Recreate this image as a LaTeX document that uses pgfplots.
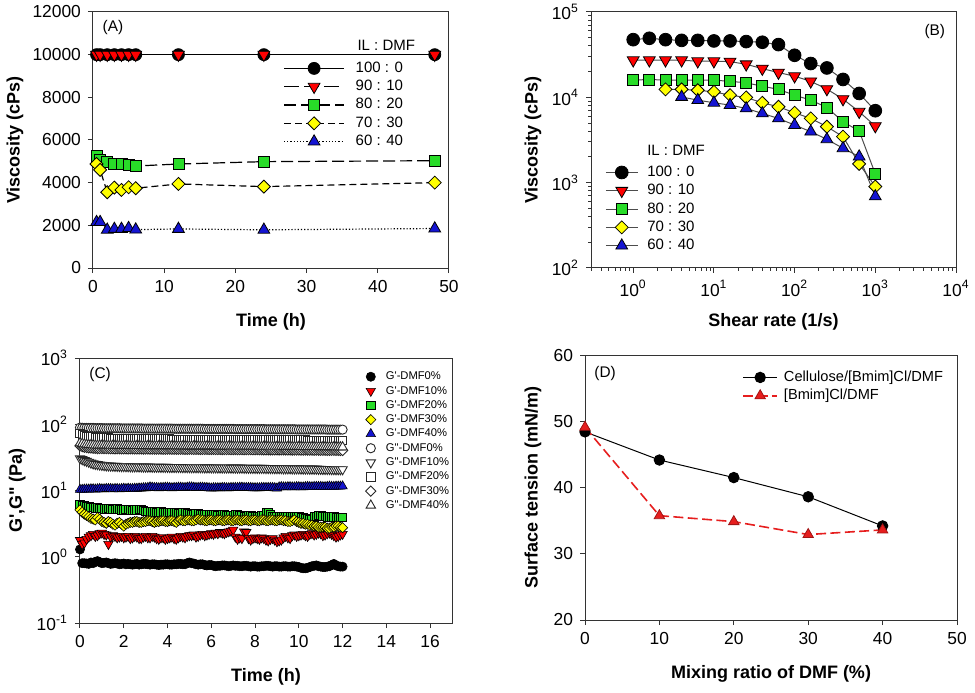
\documentclass[border=0pt]{standalone}
\usepackage{fontspec}
\setmainfont{Liberation Sans}
\usepackage{pgfplots}
\pgfplotsset{compat=1.18}
\usepackage{pgfplotstable}

\definecolor{mred}{RGB}{255,0,0}
\definecolor{mgreen}{RGB}{40,220,40}
\definecolor{myellow}{RGB}{255,255,0}
\definecolor{mblue}{RGB}{20,20,210}
\definecolor{dred}{RGB}{230,30,30}

\pgfplotstableread{
t a0 a10 a20 a30 a40 b0 b10 b20 b30 b40
0.0 1.29 1.78 6.2 5.1 10.3 89 30.5 72 47 52
0.1 0.80 1.55 6.0 4.7 10.3 88.5 29.5 69 46 51
0.2 0.80 1.62 5.9 4.4 10.4 88 28.5 67 45 50
0.3 0.79 1.85 5.8 4.2 10.4 88 27.8 66 44.5 49.5
0.4 0.78 2.00 5.7 4.0 10.4 88 27.0 65 44 49
0.5 0.82 2.10 5.6 3.8 10.5 88 26.2 64.5 43.8 48.8
0.6 0.80 2.20 5.6 3.7 10.5 88 25.5 64 43.5 48.5
0.7 0.84 2.05 5.5 3.6 10.4 87.5 25.1 63.5 43.2 48.2
0.8 0.86 2.10 5.5 3.9 10.5 87.5 24.8 63 43 48
0.9 0.83 2.25 5.4 3.7 10.6 87.5 24.5 62.8 43 48
1.0 0.80 2.30 5.4 3.4 10.5 87.5 24.2 62.5 43 48
1.1 0.81 2.20 5.3 3.3 10.5 87 24.0 62.2 42.9 47.9
1.2 0.82 2.15 5.3 3.2 10.6 87 23.8 62 42.8 47.8
1.3 0.80 1.55 5.4 3.4 10.6 87 23.7 61.8 42.8 47.8
1.4 0.78 2.00 5.3 3.3 10.6 87 23.6 61.5 42.7 47.7
1.5 0.79 2.10 5.2 3.1 10.5 87 23.5 61.5 42.7 47.7
1.6 0.80 2.05 5.2 3.0 10.6 87 23.4 61.5 42.6 47.6
1.7 0.79 1.95 5.3 3.2 10.6 87 23.4 61.2 42.6 47.6
1.8 0.77 2.00 5.2 3.3 10.5 87 23.3 61 42.5 47.5
1.9 0.78 2.05 5.1 3.1 10.6 86.5 23.2 61 42.5 47.5
2.0 0.79 1.95 5.1 2.9 10.7 86.5 23.2 61 42.5 47.5
2.1 0.77 2.00 5.2 3.1 10.6 86.5 23.1 61 42.4 47.4
2.2 0.78 2.05 5.2 3.2 10.7 86.5 23.1 61 42.4 47.4
2.3 0.77 1.90 5.1 3.3 10.6 86.5 23.0 60.8 42.4 47.4
2.4 0.76 1.95 5.0 3.3 10.6 86.5 23.0 60.5 42.4 47.4
2.5 0.77 2.05 5.1 3.4 10.7 86.5 23.0 60.5 42.3 47.3
2.6 0.78 2.00 5.1 3.4 10.7 86.5 23.0 60.5 42.3 47.3
2.7 0.76 1.90 5.2 3.3 10.8 86.5 22.9 60.5 42.3 47.3
2.8 0.77 1.90 5.2 3.3 10.8 86.5 22.9 60.5 42.3 47.3
2.9 0.78 2.00 5.0 3.4 10.9 86 22.8 60.5 42.2 47.2
3.0 0.78 2.05 4.9 3.4 10.9 86 22.8 60.5 42.2 47.2
3.1 0.77 1.95 4.9 3.5 11.0 86 22.8 60.2 42.2 47.2
3.2 0.76 1.95 4.8 3.5 11.2 86 22.8 60 42.2 47.2
3.3 0.77 2.05 4.8 3.4 11.1 86 22.7 60 42.1 47.1
3.4 0.77 2.00 4.8 3.3 11.0 86 22.7 60 42.1 47.1
3.5 0.76 1.90 4.7 3.4 11.0 86 22.7 60 42.1 47.1
3.6 0.75 1.85 4.7 3.4 10.9 86 22.7 60 42.1 47.1
3.7 0.76 1.95 4.8 3.5 11.0 86 22.6 60 42.0 47.0
3.8 0.76 1.95 4.7 3.5 11.0 86 22.6 60 42.0 47.0
3.9 0.77 1.85 4.6 3.4 11.1 86 22.6 60 42.0 47.0
4.0 0.77 1.90 4.6 3.4 11.1 86 22.6 60 42.0 47.0
4.1 0.76 1.95 4.7 3.5 11.0 86 22.5 59.8 42.0 47.0
4.2 0.76 2.00 4.7 3.5 10.9 86 22.5 59.5 42.0 47.0
4.3 0.77 1.90 4.6 3.4 11.0 85.5 22.5 59.5 41.9 46.9
4.4 0.77 1.85 4.6 3.3 11.0 85.5 22.5 59.5 41.9 46.9
4.5 0.78 1.95 4.5 3.5 11.1 85.5 22.5 59.5 41.9 46.9
4.6 0.78 2.05 4.5 3.6 11.1 85.5 22.5 59.5 41.9 46.9
4.7 0.77 2.00 4.6 3.5 11.0 85.5 22.4 59.5 41.8 46.8
4.8 0.77 1.95 4.6 3.5 11.0 85.5 22.4 59.5 41.8 46.8
4.9 0.80 2.05 4.5 3.6 11.1 85.5 22.4 59.5 41.8 46.8
5.0 0.82 2.10 4.5 3.6 11.2 85.5 22.4 59.5 41.8 46.8
5.1 0.80 2.10 4.4 3.5 11.2 85.5 22.3 59.5 41.8 46.8
5.2 0.79 2.15 4.4 3.5 11.1 85.5 22.3 59.5 41.8 46.8
5.3 0.77 2.00 4.5 3.6 11.0 85.5 22.3 59.5 41.7 46.7
5.4 0.76 2.05 4.5 3.7 11.0 85.5 22.3 59.5 41.7 46.7
5.5 0.77 2.15 4.4 3.6 11.1 85.5 22.3 59.2 41.7 46.7
5.6 0.77 2.20 4.4 3.6 11.1 85.5 22.3 59 41.7 46.7
5.7 0.75 2.10 4.3 3.5 11.0 85 22.2 59 41.7 46.7
5.8 0.74 2.15 4.3 3.5 11.0 85 22.2 59 41.7 46.7
5.9 0.75 2.20 4.3 3.6 10.9 85 22.2 59 41.6 46.6
6.0 0.75 2.25 4.3 3.6 10.8 85 22.2 59 41.6 46.6
6.1 0.73 2.20 4.3 3.5 10.9 85 22.2 59 41.6 46.6
6.2 0.72 2.30 4.3 3.5 10.9 85 22.2 59 41.6 46.6
6.3 0.73 2.25 4.2 3.6 10.9 85 22.1 59 41.5 46.5
6.4 0.73 2.35 4.2 3.6 10.9 85 22.1 59 41.5 46.5
6.5 0.74 2.30 4.3 3.5 11.0 85 22.1 59 41.5 46.5
6.6 0.74 2.25 4.3 3.5 11.0 85 22.1 59 41.5 46.5
6.7 0.73 2.35 4.2 3.6 10.9 85 22.1 58.8 41.5 46.5
6.8 0.72 2.40 4.2 3.6 10.9 85 22.1 58.5 41.5 46.5
6.9 0.73 2.45 4.2 3.5 11.0 85 22.0 58.5 41.4 46.4
7.0 0.74 2.55 4.2 3.5 11.0 85 22.0 58.5 41.4 46.4
7.1 0.73 2.00 4.3 3.6 11.0 84.5 22.0 58.5 41.4 46.4
7.2 0.73 1.85 4.3 3.6 11.0 84.5 22.0 58.5 41.4 46.4
7.3 0.72 1.95 4.2 3.5 11.1 84.5 22.0 58.5 41.3 46.3
7.4 0.72 1.90 4.2 3.5 11.1 84.5 22.0 58.5 41.3 46.3
7.5 0.73 2.40 4.1 3.6 11.0 84.5 21.9 58.5 41.3 46.3
7.6 0.73 2.35 4.1 3.6 11.0 84.5 21.9 58.5 41.3 46.3
7.7 0.72 1.90 4.2 3.5 11.0 84.5 21.9 58.5 41.3 46.3
7.8 0.71 1.80 4.2 3.5 11.0 84.5 21.9 58.5 41.3 46.3
7.9 0.72 1.90 4.1 3.6 10.9 84.5 21.8 58.5 41.2 46.2
8.0 0.72 1.95 4.1 3.6 10.9 84.5 21.8 58.5 41.2 46.2
8.1 0.71 1.90 4.1 3.5 10.9 84.5 21.8 58.5 41.2 46.2
8.2 0.71 1.85 4.1 3.5 10.9 84.5 21.8 58.5 41.2 46.2
8.3 0.72 1.95 4.2 3.6 11.0 84.5 21.8 58.2 41.1 46.1
8.4 0.72 1.90 4.2 3.6 11.0 84.5 21.8 58 41.1 46.1
8.5 0.73 1.80 4.6 3.5 11.0 84 21.7 58 41.1 46.1
8.6 0.73 1.75 4.7 3.5 11.0 84 21.7 58 41.1 46.1
8.7 0.72 1.85 4.3 3.6 11.0 84 21.7 58 41.0 46.0
8.8 0.71 1.90 4.1 3.6 11.0 84 21.7 58 41.0 46.0
8.9 0.72 1.80 4.0 3.5 10.9 84 21.6 58 41.0 46.0
9.0 0.72 1.70 4.0 3.5 10.8 84 21.6 58 41.0 46.0
9.1 0.71 1.75 4.1 3.6 11.2 84 21.6 58 41.0 46.0
9.2 0.71 1.80 4.1 3.6 11.3 84 21.6 58 41.0 46.0
9.3 0.72 1.95 4.0 3.5 11.2 84 21.5 58 40.9 45.9
9.4 0.72 2.05 4.0 3.5 11.2 84 21.5 58 40.9 45.9
9.5 0.71 1.95 4.0 3.4 11.3 84 21.5 58 40.9 45.9
9.6 0.71 1.90 4.0 3.4 11.3 84 21.5 58 40.9 45.9
9.7 0.72 2.10 4.0 3.5 11.2 84 21.4 58 40.8 45.8
9.8 0.72 2.15 4.0 3.6 11.2 84 21.4 58 40.8 45.8
9.9 0.71 2.05 4.0 3.4 11.3 83.5 21.4 58 40.8 45.8
10.0 0.70 2.10 4.0 3.3 11.3 83.5 21.4 58 40.8 45.8
10.1 0.68 2.15 3.9 3.2 11.2 83.5 21.3 58 40.7 45.7
10.2 0.67 2.20 3.9 3.2 11.2 83.5 21.3 58 40.7 45.7
10.3 0.67 2.10 3.8 3.1 11.3 83.5 21.3 57.8 40.7 45.7
10.4 0.68 2.05 3.8 3.1 11.4 83.5 21.3 57.5 40.7 45.7
10.5 0.70 2.20 3.7 3.0 11.3 83.5 21.2 57.5 40.6 45.6
10.6 0.72 2.25 3.7 3.0 11.3 83.5 21.2 57.5 40.6 45.6
10.7 0.73 2.15 4.0 2.9 11.4 83.5 21.2 57.5 40.6 45.6
10.8 0.74 2.20 4.1 2.9 11.4 83.5 21.2 57.5 40.6 45.6
10.9 0.72 2.30 4.2 2.8 11.4 83.5 21.1 57.5 40.5 45.5
11.0 0.71 2.25 4.2 2.8 11.4 83.5 21.1 57.5 40.5 45.5
11.1 0.70 2.10 4.1 2.8 11.3 83.5 21.0 57.5 40.5 45.5
11.2 0.70 2.15 4.1 2.8 11.3 83.5 21.0 57.5 40.5 45.5
11.3 0.71 2.25 4.0 2.7 11.4 83 21.0 57.5 40.4 45.4
11.4 0.72 2.30 4.0 2.7 11.5 83 21.0 57.5 40.4 45.4
11.5 0.75 2.20 4.0 2.8 11.4 83 20.9 57.5 40.4 45.4
11.6 0.78 2.10 4.0 2.8 11.4 83 20.9 57.5 40.4 45.4
11.7 0.74 2.00 3.9 2.9 11.5 83 20.8 57.5 40.3 45.3
11.8 0.72 2.05 3.9 2.9 11.5 83 20.8 57.5 40.3 45.3
11.9 0.71 2.15 3.9 2.8 11.5 83 20.8 57.5 40.2 45.2
12.0 0.71 2.20 3.9 2.75 11.6 83 20.8 57.5 40.2 45.2
}\dataC

\pgfplotsset{
 panel/.style={
  scale only axis,
  axis line style={black!80, line width=0.5pt},
  tick align=outside,
  tick pos=left,
  major tick length=2.5pt,
  minor tick length=1.5pt,
  every tick/.style={black!80, line width=0.5pt},
  ticklabel style={font=\fontsize{8.7}{10}\selectfont},
  /pgf/number format/assume math mode=true,
  /pgf/number format/1000 sep={},
  label style={font=\fontsize{9}{10}\selectfont\bfseries},
  legend cell align=left,
  legend style={draw=none, fill=none, inner sep=0pt, font=\fontsize{7.5}{9}\selectfont,
    nodes={inner sep=0.5pt, text height=5.5pt, text depth=1.5pt}, row sep=1.15pt},
  clip=false,
 },
 lineleg/.style={legend image code/.code={\draw[mark repeat=2,mark phase=2,##1] plot coordinates {(0pt,0pt) (#1,0pt) (2*#1,0pt)};}},
}

\begin{document}
\begin{tikzpicture}
\path[use as bounding box] (0,0) rectangle (487.5pt,346pt);

% ---------------- (A)
\begin{axis}[panel, at={(46.5pt,212pt)}, anchor=south west, width=178pt, height=128pt,
  xmin=0, xmax=50, ymin=0, ymax=12000, xtick={0,10,...,50}, ytick={0,2000,...,12000},
  scaled y ticks=false,
  xlabel={Time (h)}, ylabel={Viscosity (cPs)},
  xlabel style={at={(axis description cs:0.5,-0.211)}, anchor=center},
  ylabel style={at={(axis description cs:-0.219,0.5)}, anchor=center},
  lineleg=15pt,
  legend style={at={(0.534,0.8125)}, anchor=north west,
    /tikz/every odd column/.append style={column sep=5pt}}]
\addplot[black, line width=0.6pt, mark=*, mark size=3pt, mark options={solid, fill=black, draw=black, line width=0.4pt}]
 coordinates {(0.5,10000) (1,10000) (2,10000) (3,10000) (4,10000) (5,10000) (6,10000) (12,10000) (24,10000) (48,10000)};
\addlegendentry{100 : 0}
\addplot[black, line width=0.6pt, dash pattern=on 7.5pt off 2.5pt, mark=triangle*, mark size=3.4pt, mark options={solid, fill=mred, draw=black, line width=0.4pt, rotate=180}]
 coordinates {(0.5,10000) (1,10000) (2,10000) (3,10000) (4,10000) (5,10000) (6,10000) (12,10000) (24,10000) (48,10000)};
\addlegendentry{90 : 10}
\addplot[black, line width=0.6pt, dash pattern=on 6pt off 2.5pt, mark=square*, mark size=2.75pt, mark options={solid, fill=mgreen, draw=black, line width=0.4pt}]
 coordinates {(0.5,5250) (1,5090) (2,4950) (3,4875) (4,4875) (5,4830) (6,4780) (12,4875) (24,4985) (48,5030)};
\addlegendentry{80 : 20}
\addplot[black, line width=0.6pt, dash pattern=on 3.5pt off 2pt, mark=square*, mark size=2.3pt, mark options={solid, fill=myellow, draw=black, line width=0.4pt, rotate=45}]
 coordinates {(0.5,4875) (1,4600) (2,3550) (3,3770) (4,3660) (5,3785) (6,3740) (12,3940) (24,3815) (48,4000)};
\addlegendentry{70 : 30}
\addplot[black, line width=0.6pt, dash pattern=on 0.6pt off 1pt, mark=triangle*, mark size=3.4pt, mark options={solid, fill=mblue, draw=black, line width=0.4pt}]
 coordinates {(0.5,2150) (1,2150) (2,1790) (3,1830) (4,1830) (5,1870) (6,1800) (12,1830) (24,1790) (48,1850)};
\addlegendentry{60 : 40}
\node[font=\fontsize{7.7}{9}\selectfont] at (rel axis cs:0.056,0.941) {(A)};
\node[font=\fontsize{7.5}{9}\selectfont, anchor=west, inner sep=0pt] at (rel axis cs:0.742,0.871) {IL : DMF};
\end{axis}

% ---------------- (B)
\begin{axis}[panel, at={(295.5pt,212pt)}, anchor=south west, width=182.5pt, height=128pt,
  xmode=log, ymode=log, xmin=0.3, xmax=10000, ymin=100, ymax=100000,
  xtick={1,10,100,1000,10000},
  xticklabels={10\textsuperscript{0},10\textsuperscript{1},10\textsuperscript{2},10\textsuperscript{3},10\textsuperscript{4}},
  ytick={100,1000,10000,100000},
  yticklabels={10\textsuperscript{2},10\textsuperscript{3},10\textsuperscript{4},10\textsuperscript{5}},
  minor xtick={0.3,0.4,0.5,0.6,0.7,0.8,0.9,2,3,4,5,6,7,8,9,20,30,40,50,60,70,80,90,200,300,400,500,600,700,800,900,2000,3000,4000,5000,6000,7000,8000,9000},
  minor ytick={200,300,400,500,600,700,800,900,2000,3000,4000,5000,6000,7000,8000,9000,20000,30000,40000,50000,60000,70000,80000,90000},
  xlabel={Shear rate (1/s)}, ylabel={Viscosity (cPs)},
  xlabel style={at={(axis description cs:0.5,-0.211)}, anchor=center},
  ylabel style={at={(axis description cs:-0.159,0.5)}, anchor=center},
  lineleg=8pt,
  legend style={at={(0.038,0.406)}, anchor=north west,
    /tikz/every odd column/.append style={column sep=4pt}}]
\addplot[black!70, line width=0.5pt, mark=*, mark size=3.2pt, mark options={fill=black, draw=black, line width=0.4pt}]
 coordinates {(1,47400) (1.585,49200) (2.512,47400) (3.981,46500) (6.31,46500) (10,45800) (15.85,45800) (25.12,45000) (39.81,44200) (63.1,41500) (100,31100) (158.5,24900) (251.2,22100) (398.1,16200) (631,11100) (1000,6970)};
\addlegendentry{100 : 0}
\addplot[black!70, line width=0.5pt, mark=triangle*, mark size=3.4pt, mark options={fill=mred, draw=black, line width=0.4pt, rotate=180}]
 coordinates {(1,27200) (1.585,27200) (2.512,27200) (3.981,27200) (6.31,26500) (10,26500) (15.85,26200) (25.12,24400) (39.81,21700) (63.1,19500) (100,17700) (158.5,15400) (251.2,12500) (398.1,9530) (631,6780) (1000,4600)};
\addlegendentry{90 : 10}
\addplot[black!70, line width=0.5pt, mark=square*, mark size=2.75pt, mark options={fill=mgreen, draw=black, line width=0.4pt}]
 coordinates {(1,15900) (1.585,16200) (2.512,15900) (3.981,15900) (6.31,15900) (10,15900) (15.85,15400) (25.12,14800) (39.81,13500) (63.1,12400) (100,10600) (158.5,9280) (251.2,7610) (398.1,5180) (631,4030) (1000,1265)};
\addlegendentry{80 : 20}
\addplot[black!70, line width=0.5pt, mark=square*, mark size=2.3pt, mark options={fill=myellow, draw=black, line width=0.4pt, rotate=45}]
 coordinates {(2.512,12400) (3.981,12400) (6.31,12100) (10,11600) (15.85,10600) (25.12,9960) (39.81,8630) (63.1,7750) (100,6590) (158.5,5660) (251.2,4530) (398.1,3460) (631,1660) (1000,900)};
\addlegendentry{70 : 30}
\addplot[black!70, line width=0.5pt, mark=triangle*, mark size=3.4pt, mark options={fill=mblue, draw=black, line width=0.4pt}]
 coordinates {(3.981,10100) (6.31,9270) (10,8630) (15.85,8110) (25.12,7410) (39.81,6480) (63.1,5660) (100,4730) (158.5,3960) (251.2,3220) (398.1,2530) (631,2020) (1000,690)};
\addlegendentry{60 : 40}
\node[font=\fontsize{7.7}{9}\selectfont] at (rel axis cs:0.942,0.922) {(B)};
\node[font=\fontsize{7.5}{9}\selectfont, anchor=west, inner sep=0pt] at (rel axis cs:0.153,0.461) {IL : DMF};
\end{axis}

% ---------------- (C)
\begin{axis}[panel, at={(40pt,34.5pt)}, anchor=south west, width=186pt, height=132.5pt,
  ymode=log, xmin=0, xmax=17, ymin=0.1, ymax=1000,
  xtick={0,2,...,16},
  ytick={0.1,1,10,100,1000},
  yticklabels={10\textsuperscript{-1},10\textsuperscript{0},10\textsuperscript{1},10\textsuperscript{2},10\textsuperscript{3}},
  minor tick length=0pt,
  xlabel={Time (h)}, ylabel={G\textquotesingle,G\textquotedbl{} (Pa)},
  xlabel style={at={(axis description cs:0.5,-0.204)}, anchor=center},
  ylabel style={at={(axis description cs:-0.169,0.5)}, anchor=center},
  legend style={at={(0.767,0.955)}, anchor=north west, font=\fontsize{5.6}{7}\selectfont,
    nodes={inner sep=0.5pt, text height=4.2pt, text depth=1.2pt}, row sep=0.75pt,
    /tikz/every odd column/.append style={column sep=4.5pt}},
  legend image code/.code={\draw[#1] plot coordinates {(0pt,0pt)};},
  every axis plot/.append style={only marks}]
\addplot[mark=*, mark size=2.3pt, mark options={fill=black, draw=black, line width=0.3pt}] table[x=t, y=a0] {\dataC};
\addlegendentry{G\textquotesingle-DMF0\%}
\addplot[mark=triangle*, mark size=2.7pt, mark options={fill=mred, draw=black, line width=0.3pt, rotate=180}] table[x=t, y=a10] {\dataC};
\addlegendentry{G\textquotesingle-DMF10\%}
\addplot[mark=square*, mark size=2.1pt, mark options={fill=mgreen, draw=black, line width=0.3pt}] table[x=t, y=a20] {\dataC};
\addlegendentry{G\textquotesingle-DMF20\%}
\addplot[mark=square*, mark size=1.8pt, mark options={fill=myellow, draw=black, line width=0.3pt, rotate=45}] table[x=t, y=a30] {\dataC};
\addlegendentry{G\textquotesingle-DMF30\%}
\addplot[mark=triangle*, mark size=2.7pt, mark options={fill=mblue, draw=black, line width=0.3pt}] table[x=t, y=a40] {\dataC};
\addlegendentry{G\textquotesingle-DMF40\%}
\addplot[mark=*, mark size=2.3pt, mark options={fill=white, draw=black!85, line width=0.45pt}] table[x=t, y=b0] {\dataC};
\addlegendentry{G\textquotedbl-DMF0\%}
\addplot[mark=triangle*, mark size=2.7pt, mark options={fill=white, draw=black!85, line width=0.45pt, rotate=180}] table[x=t, y=b10] {\dataC};
\addlegendentry{G\textquotedbl-DMF10\%}
\addplot[mark=square*, mark size=2.1pt, mark options={fill=white, draw=black!85, line width=0.45pt}] table[x=t, y=b20] {\dataC};
\addlegendentry{G\textquotedbl-DMF20\%}
\addplot[mark=square*, mark size=1.8pt, mark options={fill=white, draw=black!85, line width=0.45pt, rotate=45}] table[x=t, y=b30] {\dataC};
\addlegendentry{G\textquotedbl-DMF30\%}
\addplot[mark=triangle*, mark size=2.7pt, mark options={fill=white, draw=black!85, line width=0.45pt}] table[x=t, y=b40] {\dataC};
\addlegendentry{G\textquotedbl-DMF40\%}
\node[font=\fontsize{7.7}{9}\selectfont] at (rel axis cs:0.054,0.936) {(C)};
\end{axis}

% ---------------- (D)
\begin{axis}[panel, at={(292.5pt,36pt)}, anchor=south west, width=186pt, height=132.5pt,
  xmin=0, xmax=50, ymin=20, ymax=60, xtick={0,10,...,50}, ytick={20,30,...,60},
  xlabel={Mixing ratio of DMF (\%)}, ylabel={Surface tension (mN/m)},
  xlabel style={at={(axis description cs:0.5,-0.204)}, anchor=center},
  ylabel style={at={(axis description cs:-0.140,0.5)}, anchor=center},
  lineleg=8.5pt,
  legend style={at={(0.422,0.947)}, anchor=north west, font=\fontsize{7.3}{9}\selectfont,
    /tikz/every odd column/.append style={column sep=2.5pt}}]
\addplot[black, line width=0.5pt, mark=*, mark size=2.6pt, mark options={solid, fill=black}]
 coordinates {(0,48.4) (10,44.15) (20,41.5) (30,38.6) (40,34.2)};
\addlegendentry{Cellulose/[Bmim]Cl/DMF}
\addplot[dred, line width=0.8pt, dash pattern=on 5pt off 2.2pt, mark=triangle*, mark size=3pt, mark options={solid, fill=dred, draw=dred!70!black, line width=0.4pt}]
 coordinates {(0,49.1) (10,35.75) (20,34.85) (30,32.9) (40,33.6)};
\addlegendentry{{[}Bmim]Cl/DMF}
\node[font=\fontsize{7.7}{9}\selectfont] at (rel axis cs:0.054,0.932) {(D)};
\end{axis}
\end{tikzpicture}
\end{document}
